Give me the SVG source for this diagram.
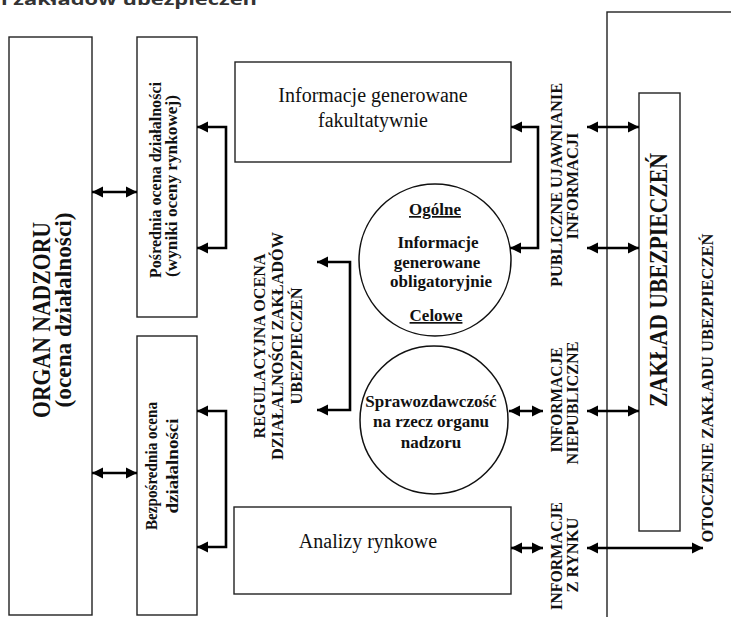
<svg xmlns="http://www.w3.org/2000/svg" width="731" height="617" viewBox="0 0 731 617">
<defs>
<style>
.box{fill:#fff;stroke:#222;stroke-width:1.4}
.circ{fill:#fff;stroke:#111;stroke-width:1.5}
.conn{fill:none;stroke:#000;stroke-width:2.6}
.ser{font-family:"Liberation Serif","Times New Roman",serif;fill:#111}
.b{font-weight:bold}
.mid{text-anchor:middle}
.ul{text-decoration:underline}
</style>
<marker id="ah" markerUnits="userSpaceOnUse" markerWidth="12" markerHeight="12" refX="11" refY="6" orient="auto-start-reverse" viewBox="0 0 12 12">
<path d="M0,0.5 L11,6 L0,11.5 z" fill="#000"/>
</marker>
</defs>
<rect width="731" height="617" fill="#fff"/>
<text x="1" y="5" font-family="'Open Sans','Liberation Sans',sans-serif" font-weight="bold" font-size="16" fill="#333" textLength="256" lengthAdjust="spacingAndGlyphs">i zakładów ubezpieczeń</text>

<g id="otoczenie">
<rect x="607" y="12" width="140" height="620" fill="none" stroke="#222" stroke-width="1.4"/>
<text class="ser b mid" font-size="16.5" transform="translate(713,388) rotate(-90)" textLength="309" lengthAdjust="spacingAndGlyphs">OTOCZENIE ZAKŁADU UBEZPIECZEŃ</text>
</g>

<g id="organ-nadzoru">
<rect class="box" x="9" y="37" width="83" height="578"/>
<text class="ser b mid" font-size="25" transform="translate(50,320) rotate(-90)" textLength="196" lengthAdjust="spacingAndGlyphs">ORGAN NADZORU</text>
<text class="ser b mid" font-size="24" transform="translate(71,310) rotate(-90)" textLength="195" lengthAdjust="spacingAndGlyphs">(ocena działalności)</text>
</g>

<g id="posrednia">
<rect class="box" x="137" y="37" width="60" height="280"/>
<text class="ser b mid" font-size="17" transform="translate(161,180) rotate(-90)" textLength="196" lengthAdjust="spacingAndGlyphs">Pośrednia ocena działalności</text>
<text class="ser b mid" font-size="17" transform="translate(177,186) rotate(-90)" textLength="182" lengthAdjust="spacingAndGlyphs">(wyniki oceny rynkowej)</text>
</g>

<g id="bezposrednia">
<rect class="box" x="137" y="336" width="60" height="279"/>
<text class="ser b mid" font-size="17" transform="translate(157,466) rotate(-90)" textLength="128" lengthAdjust="spacingAndGlyphs">Bezpośrednia ocena</text>
<text class="ser b mid" font-size="17" transform="translate(178,466) rotate(-90)" textLength="95" lengthAdjust="spacingAndGlyphs">działalności</text>
</g>

<g id="regulacyjna">
<text class="ser b mid" font-size="16.5" transform="translate(265,346) rotate(-90)" textLength="185" lengthAdjust="spacingAndGlyphs">REGULACYJNA OCENA</text>
<text class="ser b mid" font-size="16.5" transform="translate(283,346) rotate(-90)" textLength="228" lengthAdjust="spacingAndGlyphs">DZIAŁALNOŚCI ZAKŁADÓW</text>
<text class="ser b mid" font-size="16.5" transform="translate(302,346) rotate(-90)" textLength="117" lengthAdjust="spacingAndGlyphs">UBEZPIECZEŃ</text>
</g>

<g id="fakultatywne">
<rect class="box" x="235" y="62" width="276" height="100"/>
<text class="ser mid" font-size="20" x="373" y="102">Informacje generowane</text>
<text class="ser mid" font-size="20" x="373" y="127">fakultatywnie</text>
</g>

<g id="obligatoryjne">
<circle class="circ" cx="435" cy="260" r="76"/>
<text class="ser b mid ul" font-size="17" x="435" y="215">Ogólne</text>
<text class="ser b mid" font-size="17" x="438" y="248">Informacje</text>
<text class="ser b mid" font-size="17" x="437" y="268">generowane</text>
<text class="ser b mid" font-size="17" x="441" y="287">obligatoryjnie</text>
<text class="ser b mid ul" font-size="17" x="436" y="321">Celowe</text>
</g>

<g id="sprawozdawczosc">
<circle class="circ" cx="434" cy="420" r="74"/>
<text class="ser b mid" font-size="17" x="431" y="407">Sprawozdawczość</text>
<text class="ser b mid" font-size="17" x="431" y="427">na rzecz organu</text>
<text class="ser b mid" font-size="17" x="431" y="448">nadzoru</text>
</g>

<g id="analizy">
<rect class="box" x="234" y="507" width="277" height="87"/>
<text class="ser mid" font-size="20" x="368" y="548">Analizy rynkowe</text>
</g>

<g id="labels-right">
<text class="ser b mid" font-size="17" transform="translate(562,185) rotate(-90)" textLength="204" lengthAdjust="spacingAndGlyphs">PUBLICZNE UJAWNIANIE</text>
<text class="ser b mid" font-size="17" transform="translate(578,186) rotate(-90)" textLength="107" lengthAdjust="spacingAndGlyphs">INFORMACJI</text>
<text class="ser b mid" font-size="17" transform="translate(562,400) rotate(-90)" textLength="105" lengthAdjust="spacingAndGlyphs">INFORMACJE</text>
<text class="ser b mid" font-size="17" transform="translate(578,403) rotate(-90)" textLength="123" lengthAdjust="spacingAndGlyphs">NIEPUBLICZNE</text>
<text class="ser b mid" font-size="17" transform="translate(562,556) rotate(-90)" textLength="108" lengthAdjust="spacingAndGlyphs">INFORMACJE</text>
<text class="ser b mid" font-size="17" transform="translate(578,555) rotate(-90)" textLength="75" lengthAdjust="spacingAndGlyphs">Z RYNKU</text>
</g>

<g id="zaklad">
<rect class="box" x="639" y="93" width="41" height="438"/>
<text class="ser b mid" font-size="25" transform="translate(667,280) rotate(-90)" textLength="254" lengthAdjust="spacingAndGlyphs">ZAKŁAD UBEZPIECZEŃ</text>
</g>

<g id="connectors" class="conn" marker-start="url(#ah)" marker-end="url(#ah)">
<path d="M92,192 H137"/>
<path d="M92,473 H137"/>
<path d="M197,127 H226 V248 H197"/>
<path d="M197,411 H226 V547 H197"/>
<path d="M317,262 H350 V410 H317"/>
<path d="M511,127 H538 V248 H510"/>
<path d="M509,411 H543"/>
<path d="M511,548 H543"/>
<path d="M587,127 H639"/>
<path d="M587,248 H639"/>
<path d="M587,411 H639"/>
<path d="M587,548 H703"/>
</g>
</svg>
